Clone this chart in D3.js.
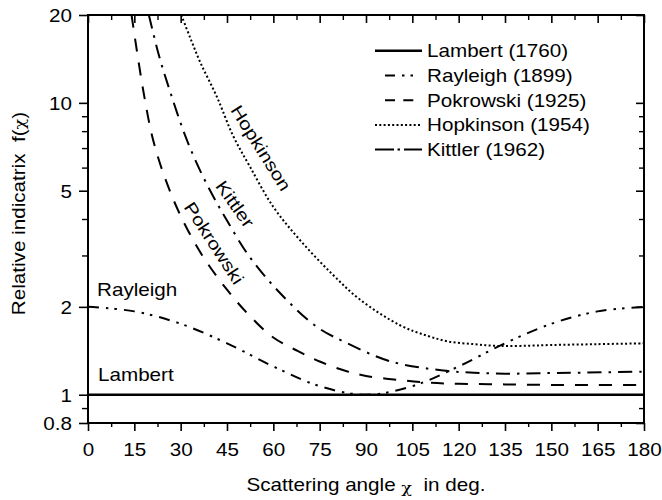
<!DOCTYPE html>
<html>
<head>
<meta charset="utf-8">
<script src="https://cdn.jsdelivr.net/npm/d3@7"></script>
<style>
  body { margin: 0; background: #fff; }
  svg text { font-family: "Liberation Sans", Arial, sans-serif; font-size: 17.5px; fill: #000; }
  svg tspan.greek { font-family: "DejaVu Serif", serif; font-size: 15px; }
</style>
</head>
<body>
<svg id="chart" width="662" height="500"></svg>
<script>
// Axis ticks
const xTicks = [0, 15, 30, 45, 60, 75, 90, 105, 120, 135, 150, 165, 180];
const xMinorTicks = [7.5, 22.5, 37.5, 52.5, 67.5, 82.5, 97.5, 112.5, 127.5, 142.5, 157.5, 172.5];
const yTicks = [0.8, 1, 2, 5, 10, 20];
const yTickLabels = ["0.8", "1", "2", "5", "10", "20"];
const yMinorTicks = [0.9, 3, 4, 6, 7, 8, 9];

// Indicatrix curves: scattering angle (deg) and relative value f(chi)
const lambertAngle = [0, 180];
const lambertValue = [1, 1];

const rayleighAngle = [0, 15, 30, 45, 60, 75, 90, 105, 120, 135, 150, 165, 180];
const rayleighValue = [2.0, 1.93, 1.75, 1.5, 1.25, 1.07, 1.0, 1.07, 1.25, 1.5, 1.75, 1.93, 2.0];

const pokrowskiAngle = [14.1, 17.9, 21.1, 25, 30, 37, 45, 52, 60, 68, 75, 83, 90, 100, 110, 120, 135, 150, 165, 180];
const pokrowskiValue = [20, 11, 7.45, 5.5, 4.1, 3.0, 2.29, 1.88, 1.57, 1.41, 1.30, 1.21, 1.16, 1.125, 1.10, 1.09, 1.085, 1.08, 1.08, 1.08];

const hopkinsonAngle = [30.2, 33, 36.3, 41.7, 47, 52.4, 60, 68.6, 78.9, 88, 101, 110, 117, 125, 132, 140, 150, 165, 180];
const hopkinsonValue = [20, 16.8, 13.8, 10.5, 7.7, 6.05, 4.4, 3.39, 2.6, 2.12, 1.73, 1.59, 1.52, 1.49, 1.47, 1.47, 1.48, 1.49, 1.50];

const kittlerAngle = [19.7, 23, 26.5, 31.4, 36, 40.6, 45, 52, 62, 74, 84, 98, 115, 125, 135, 146, 160, 180];
const kittlerValue = [20, 14.5, 11, 7.75, 5.95, 4.77, 3.95, 3.0, 2.24, 1.71, 1.50, 1.30, 1.21, 1.19, 1.18, 1.185, 1.19, 1.20];

const seriesNames = ["Lambert (1760)", "Rayleigh (1899)", "Pokrowski (1925)", "Hopkinson (1954)", "Kittler (1962)"];

const series = [
  { name: seriesNames[0], angle: lambertAngle, value: lambertValue, width: 2.5, dash: null, legendDash: null },
  { name: seriesNames[1], angle: rayleighAngle, value: rayleighValue, width: 2, dash: "11 7 2.5 6 2.5 7", legendDash: "0 10 10 7 2.5 6 2.5 20" },
  { name: seriesNames[2], angle: pokrowskiAngle, value: pokrowskiValue, width: 2, dash: "13 11", legendDash: "0 10 10 8.3 10 20" },
  { name: seriesNames[3], angle: hopkinsonAngle, value: hopkinsonValue, width: 2, dash: "2 2.4", legendDash: "2 2.3" },
  { name: seriesNames[4], angle: kittlerAngle, value: kittlerValue, width: 2, dash: "14 7 2.5 7", legendDash: "19 3.5 2.5 4 20" }
];

const WIDE = 1.18; // horizontal stretch of the lettering

const svg = d3.select("#chart");
const plotLeft = 88, plotRight = 644, plotTop = 15, plotBottom = 423;

const x = d3.scaleLinear().domain([0, 180]).range([plotLeft, plotRight]);
const y = d3.scaleLog().domain([0.8, 20]).range([plotBottom, plotTop]);

function styleAxis(g, width) {
  g.attr("font-family", null).attr("font-size", null);
  g.select(".domain").remove();
  g.selectAll(".tick line").attr("stroke", "#000").attr("stroke-width", width);
}

// Bottom axis: labelled major ticks + minor ticks
const gxB = svg.append("g").attr("transform", `translate(0,${plotBottom})`)
  .call(d3.axisBottom(x).tickValues(xTicks).tickSize(8).tickSizeOuter(0).tickFormat(d3.format("d")));
styleAxis(gxB, 1.6);
gxB.selectAll(".tick text").attr("y", 0).attr("dy", null)
  .attr("transform", `translate(0,33) scale(${WIDE},1)`);
const gxBm = svg.append("g").attr("transform", `translate(0,${plotBottom})`)
  .call(d3.axisBottom(x).tickValues(xMinorTicks).tickSize(4).tickSizeOuter(0).tickFormat(""));
styleAxis(gxBm, 1.4);

// Top axis: inward ticks only
const gxT = svg.append("g").attr("transform", `translate(0,${plotTop})`)
  .call(d3.axisTop(x).tickValues(xTicks).tickSize(-8).tickSizeOuter(0).tickFormat(""));
styleAxis(gxT, 1.6);
const gxTm = svg.append("g").attr("transform", `translate(0,${plotTop})`)
  .call(d3.axisTop(x).tickValues(xMinorTicks).tickSize(-5).tickSizeOuter(0).tickFormat(""));
styleAxis(gxTm, 1.4);

// Left axis: labelled major ticks + minor ticks
const gyL = svg.append("g").attr("transform", `translate(${plotLeft},0)`)
  .call(d3.axisLeft(y).tickValues(yTicks).tickSize(9).tickSizeOuter(0)
    .tickFormat((d, i) => yTickLabels[i]));
styleAxis(gyL, 1.6);
gyL.selectAll(".tick text").attr("x", 0).attr("dy", "0.36em")
  .attr("transform", `translate(-16,0) scale(${WIDE},1)`);
const gyLm = svg.append("g").attr("transform", `translate(${plotLeft},0)`)
  .call(d3.axisLeft(y).tickValues(yMinorTicks).tickSize(6).tickSizeOuter(0).tickFormat(""));
styleAxis(gyLm, 1.4);

// Right axis: inward ticks only
const gyR = svg.append("g").attr("transform", `translate(${plotRight},0)`)
  .call(d3.axisRight(y).tickValues(yTicks).tickSize(-8).tickSizeOuter(0).tickFormat(""));
styleAxis(gyR, 1.6);
const gyRm = svg.append("g").attr("transform", `translate(${plotRight},0)`)
  .call(d3.axisRight(y).tickValues(yMinorTicks).tickSize(-5).tickSizeOuter(0).tickFormat(""));
styleAxis(gyRm, 1.4);

// Plot frame
svg.append("rect")
  .attr("x", plotLeft).attr("y", plotTop)
  .attr("width", plotRight - plotLeft).attr("height", plotBottom - plotTop)
  .attr("fill", "none").attr("stroke", "#000").attr("stroke-width", 2);

// Curves, clipped to the plotting area
svg.append("clipPath").attr("id", "plot-clip")
  .append("rect").attr("x", plotLeft).attr("y", plotTop - 1)
  .attr("width", plotRight - plotLeft).attr("height", plotBottom - plotTop + 1);

const line = d3.line()
  .x(d => x(d[0]))
  .y(d => y(d[1]))
  .curve(d3.curveCatmullRom.alpha(0.5));

const curves = svg.append("g").attr("clip-path", "url(#plot-clip)");
series.forEach(s => {
  const pts = s.angle.map((a, i) => [a, s.value[i]]);
  curves.append("path")
    .datum(pts)
    .attr("d", line)
    .attr("fill", "none")
    .attr("stroke", "#000")
    .attr("stroke-width", s.width)
    .attr("stroke-dasharray", s.dash);
});

// Text helper with stretched lettering
function label(str, px, py, rot, anchor) {
  return svg.append("text")
    .attr("text-anchor", anchor || "start")
    .attr("transform", `translate(${px},${py}) rotate(${rot || 0}) scale(${WIDE},1)`)
    .text(str);
}

// Curve labels
label("Rayleigh", 97, 296);
label("Lambert", 98, 381);
label("Hopkinson", 261, 148, 58, "middle").attr("dy", "0.35em");
label("Kittler", 235, 204, 55, "middle").attr("dy", "0.35em");
label("Pokrowski", 214, 243, 57, "middle").attr("dy", "0.35em");

// Legend
const legend = svg.append("g");
series.forEach((s, i) => {
  const base = 57.3 + i * 24.7;
  legend.append("line")
    .attr("x1", 375).attr("x2", 422)
    .attr("y1", base - 6.5).attr("y2", base - 6.5)
    .attr("stroke", "#000")
    .attr("stroke-width", s.width)
    .attr("stroke-dasharray", s.legendDash);
  legend.append("text")
    .attr("transform", `translate(427,${base}) scale(${WIDE},1)`)
    .text(s.name);
});

// Axis titles with a Greek chi
const xTitle = label("", (plotLeft + plotRight) / 2, 491, 0, "middle");
xTitle.append("tspan").text("Scattering angle ");
xTitle.append("tspan").attr("class", "greek").attr("dy", 2).text("χ");
xTitle.append("tspan").attr("dy", -2).text("\u00a0\u00a0in deg.");

const yTitle = label("", 24.5, 213.5, -90, "middle");
yTitle.append("tspan").text("Relative indicatrix\u00a0\u00a0f(");
yTitle.append("tspan").attr("class", "greek").text("χ");
yTitle.append("tspan").text(")");
</script>
</body>
</html>
